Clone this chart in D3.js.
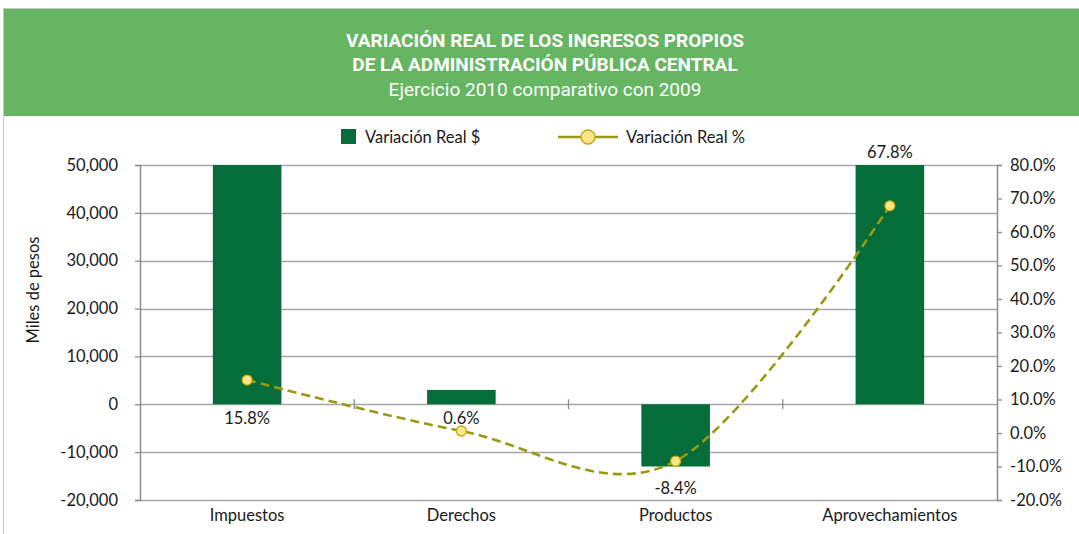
<!DOCTYPE html>
<html>
<head>
<meta charset="utf-8">
<script src="https://cdn.jsdelivr.net/npm/d3@7"></script>
<style>
  body { margin: 0; background: #fff; }
  svg { display: block; font-family: "Lato", "Open Sans", sans-serif; }
</style>
</head>
<body>
<div id="chart"></div>
<script>
// chart data
var categories = ["Impuestos", "Derechos", "Productos", "Aprovechamientos"];
var realPesos = [50000, 3000, -13000, 50000];       // Variación Real $ (miles de pesos)
var realPct = [15.8, 0.6, -8.4, 67.8];               // Variación Real %
var labelSide = ["base", "base", "end", "end"];
var leftTicks = [-20000, -10000, 0, 10000, 20000, 30000, 40000, 50000];
var rightTicks = [-20, -10, 0, 10, 20, 30, 40, 50, 60, 70, 80];
var titleLines = ["VARIACIÓN REAL DE LOS INGRESOS PROPIOS", "DE LA ADMINISTRACIÓN PÚBLICA CENTRAL"];
var subtitle = "Ejercicio 2010 comparativo con 2009";

var W = 1079, H = 534;
var margin = {top: 165, right: 82, bottom: 34, left: 140},
    width = W - margin.left - margin.right,
    height = H - margin.top - margin.bottom;

var svg = d3.select("#chart").append("svg")
    .attr("width", W)
    .attr("height", H);

// frame + header band
svg.append("rect")
    .attr("x", 3.5).attr("y", 8.5)
    .attr("width", W).attr("height", H)
    .attr("fill", "none").attr("stroke", "#c4c4c4");
svg.append("rect")
    .attr("x", 4).attr("y", 9)
    .attr("width", W - 4).attr("height", 107)
    .attr("fill", "#66b562");

svg.selectAll(".title")
    .data(titleLines)
  .enter().append("text")
    .attr("class", "title")
    .attr("x", 545)
    .attr("y", (d, i) => 47 + i * 24)
    .attr("text-anchor", "middle")
    .attr("fill", "#fff")
    .attr("font-weight", "bold")
    .attr("font-size", 19)
    .style("font-family", "'Liberation Sans Narrow', 'Roboto', sans-serif")
    .text(d => d);
svg.append("text")
    .attr("x", 545).attr("y", 96)
    .attr("text-anchor", "middle")
    .attr("fill", "#fff")
    .attr("font-size", 19)
    .style("font-family", "'Liberation Sans Narrow', 'Roboto', sans-serif")
    .text(subtitle);

var g = svg.append("g")
    .attr("transform", "translate(" + margin.left + "," + margin.top + ")");

// scales
var x = d3.scaleBand().domain(categories).range([0, width]).padding(0);
var y = d3.scaleLinear().domain([-20000, 50000]).range([height, 0]);
var y2 = d3.scaleLinear().domain([-20, 80]).range([height, 0]);
var barW = x.bandwidth() * 0.32;

// gridlines
g.selectAll(".grid")
    .data(leftTicks)
  .enter().append("line")
    .attr("class", "grid")
    .attr("x1", 0).attr("x2", width)
    .attr("y1", d => Math.round(y(d)) + 0.5)
    .attr("y2", d => Math.round(y(d)) + 0.5)
    .attr("stroke", "#a6a6a6")
    .attr("stroke-width", 1.3);

// left axis
var fmt = d3.format(",");
var leftAxis = g.append("g")
    .call(d3.axisLeft(y).tickValues(leftTicks).tickSize(5).tickPadding(17)
      .tickFormat(d => fmt(d).replace("\u2212", "-")));
// right axis
var rightAxis = g.append("g")
    .attr("transform", "translate(" + width + ",0)")
    .call(d3.axisRight(y2).tickValues(rightTicks).tickSize(5).tickPadding(8)
      .tickFormat(d => d.toFixed(1) + "%"));
[leftAxis, rightAxis].forEach(function(a) {
  a.select(".domain").attr("stroke", "#8c8c8c").attr("stroke-width", 1.5);
  a.selectAll(".tick line").attr("stroke", "#8c8c8c").attr("stroke-width", 1.3);
  a.selectAll("text").attr("fill", "#1a1a1a").attr("font-size", 16.5)
    .style("font-family", "'Lato', sans-serif");
});

// category ticks on the zero line
g.selectAll(".ctick")
    .data(categories.slice(1))
  .enter().append("line")
    .attr("class", "ctick")
    .attr("x1", d => x(d)).attr("x2", d => x(d))
    .attr("y1", y(0) - 5).attr("y2", y(0) + 5)
    .attr("stroke", "#8c8c8c").attr("stroke-width", 1.3);

// category labels
g.selectAll(".cat")
    .data(categories)
  .enter().append("text")
    .attr("class", "cat")
    .attr("x", d => x(d) + x.bandwidth() / 2)
    .attr("y", height + 21)
    .attr("text-anchor", "middle")
    .attr("fill", "#1a1a1a")
    .attr("font-size", 16.5)
    .text(d => d);

// bars
g.selectAll(".bar")
    .data(realPesos)
  .enter().append("rect")
    .attr("class", "bar")
    .attr("x", (d, i) => x(categories[i]) + (x.bandwidth() - barW) / 2)
    .attr("y", d => y(Math.max(0, d)))
    .attr("width", barW)
    .attr("height", d => Math.abs(y(d) - y(0)))
    .attr("fill", "#046d3a");

// percent labels
g.selectAll(".plabel")
    .data(realPct)
  .enter().append("text")
    .attr("class", "plabel")
    .attr("x", (d, i) => x(categories[i]) + x.bandwidth() / 2)
    .attr("y", function(d, i) {
      var v = realPesos[i];
      if (labelSide[i] == "base") return y(0) + 20;
      return v < 0 ? y(v) + 27 : y(v) - 7;
    })
    .attr("text-anchor", "middle")
    .attr("fill", "#1a1a1a")
    .attr("font-size", 16.5)
    .text(d => d.toFixed(1) + "%");

// percent line
var pts = realPct.map((d, i) => [x(categories[i]) + x.bandwidth() / 2, y2(d)]);
g.append("path")
    .attr("d", d3.line().curve(d3.curveCardinal.tension(0))(pts))
    .attr("fill", "none")
    .attr("stroke", "#9a9a12")
    .attr("stroke-width", 2.6)
    .attr("stroke-dasharray", "9,5");
g.selectAll(".dot")
    .data(pts)
  .enter().append("circle")
    .attr("class", "dot")
    .attr("cx", d => d[0]).attr("cy", d => d[1])
    .attr("r", 5)
    .attr("fill", "#fbe68a")
    .attr("stroke", "#c9a80e")
    .attr("stroke-width", 1.3);

// y title
svg.append("text")
    .attr("transform", "translate(39,290) rotate(-90)")
    .attr("text-anchor", "middle")
    .attr("fill", "#1a1a1a")
    .attr("font-size", 16.5)
    .text("Miles de pesos");

// legend
var leg = svg.append("g");
leg.append("rect")
    .attr("x", 341).attr("y", 129)
    .attr("width", 15).attr("height", 15)
    .attr("fill", "#046d3a");
leg.append("text")
    .attr("x", 365).attr("y", 143)
    .attr("fill", "#1a1a1a").attr("font-size", 16.5)
    .text("Variación Real $");
leg.append("line")
    .attr("x1", 558).attr("x2", 618)
    .attr("y1", 137).attr("y2", 137)
    .attr("stroke", "#9a9a12").attr("stroke-width", 2.5);
leg.append("circle")
    .attr("cx", 588).attr("cy", 137).attr("r", 7)
    .attr("fill", "#fbe68a").attr("stroke", "#c9a80e").attr("stroke-width", 1.5);
leg.append("text")
    .attr("x", 626).attr("y", 143)
    .attr("fill", "#1a1a1a").attr("font-size", 16.5)
    .text("Variación Real %");
</script>
</body>
</html>
